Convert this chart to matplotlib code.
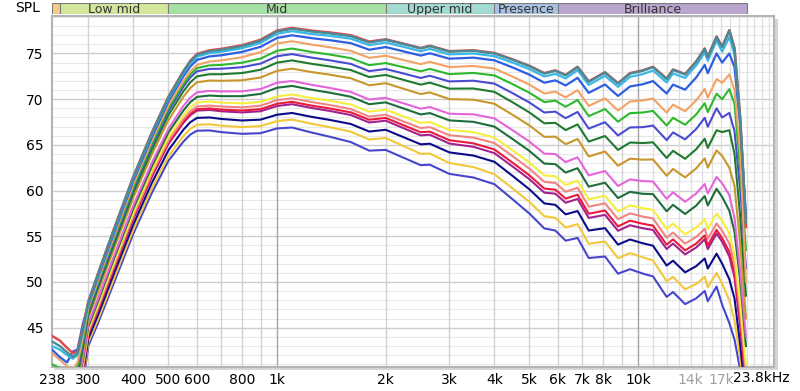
import matplotlib
matplotlib.use("Agg")
import matplotlib.pyplot as plt
from matplotlib.patches import Rectangle
import math

# ---------------- data ----------------
freqs = [238, 250, 262, 272, 280, 290, 300, 320, 350, 400, 450, 500, 550, 575, 600, 650,
         700, 800, 900, 1000, 1100, 1250, 1400, 1600, 1800, 2000,
         2200, 2500, 2650, 3000, 3500, 4000,
         4500, 5000, 5500, 5900, 6300, 6800, 7300, 8100, 8800, 9500,
         10300, 11000, 12000, 12500, 13500, 14500, 15300, 15600, 16500,
         17100, 17900, 18500, 19200, 19900]

red = [44.1, 43.6, 42.8, 42.2, 42.4, 45.0, 47.85, 51.05, 55.35, 61.55, 66.35, 70.25, 73.05, 74.2, 74.95, 75.35,
       75.5, 75.9, 76.5, 77.5, 77.8, 77.5, 77.3, 77.0, 76.3, 76.55,
       76.15, 75.6, 75.85, 75.25, 75.35, 75.05,
       74.35, 73.65, 72.85, 73.15, 72.65, 73.55, 71.95, 72.95, 71.75, 72.85,
       73.15, 73.55, 72.25, 73.25, 72.75, 74.15, 75.55, 74.65, 76.85,
       75.75, 77.55, 75.6, 67.8, 56.0]
teal = [43.5, 43.0, 42.3, 41.8, 42.2, 44.8, 47.8, 51.0, 55.3, 61.5, 66.3, 70.2, 73.0, 74.1, 74.85, 75.25,
        75.4, 75.8, 76.4, 77.4, 77.7, 77.4, 77.2, 76.9, 76.2, 76.5,
        76.1, 75.55, 75.8, 75.2, 75.3, 75.0,
        74.3, 73.6, 72.8, 73.1, 72.6, 73.5, 71.9, 72.9, 71.7, 72.8,
        73.1, 73.5, 72.2, 73.2, 72.7, 74.1, 75.5, 74.6, 76.8,
        75.7, 77.5, 75.5, 67.7, 56.5]
cyan = [43.0, 42.6, 42.0, 41.6, 42.0, 44.5, 47.7, 50.85, 55.15, 61.35, 66.15, 70.05, 72.8, 73.91, 74.65, 75.04,
        75.19, 75.57, 76.16, 77.15, 77.44, 77.13, 76.93, 76.62, 75.91, 76.2,
        75.8, 75.25, 75.5, 74.9, 75.0, 74.7,
        73.99, 73.29, 72.48, 72.77, 72.27, 73.17, 71.56, 72.55, 71.35, 72.44,
        72.74, 73.13, 71.83, 72.82, 72.32, 73.71, 75.11, 74.2, 76.4,
        75.2, 76.8, 74.9, 67.5, 57.0]
blue = [42.6, 41.8, 41.2, 42.4, 42.6, 45.5, 47.5, 50.65, 54.9, 61.1, 65.85, 69.75, 72.5, 73.57, 74.3, 74.68,
        74.8, 75.17, 75.73, 76.7, 76.99, 76.67, 76.45, 76.13, 75.41, 75.7,
        75.31, 74.77, 75.02, 74.43, 74.54, 74.25,
        73.46, 72.68, 71.8, 72.06, 71.5, 72.34, 70.69, 71.61, 70.35, 71.39,
        71.63, 71.98, 70.62, 71.59, 71.04, 72.39, 73.75, 72.84, 75.0,
        74.0, 75.0, 73.5, 67.0, 57.1]
orange = [42.2, 41.5, 40.8, 40.5, 41.2, 44.0, 47.2, 50.3, 54.55, 60.7, 65.45, 69.3, 72.0, 73.04, 73.75, 74.12,
          74.24, 74.59, 75.14, 76.1, 76.34, 75.96, 75.68, 75.29, 74.52, 74.75,
          74.36, 73.83, 74.09, 73.51, 73.63, 73.35,
          72.45, 71.59, 70.62, 70.82, 70.2, 70.98, 69.26, 70.09, 68.76, 69.74,
          69.86, 70.07, 68.53, 69.4, 68.68, 69.88, 71.12, 70.16, 72.2,
          71.8, 72.7, 71.0, 64.0, 50.0]
green = [41.0, 40.6, 40.2, 40.0, 40.8, 43.6, 47.0, 50.05, 54.3, 60.4, 65.15, 69.0, 71.65, 72.71, 73.4, 73.7,
         73.75, 73.99, 74.44, 75.3, 75.54, 75.16, 74.88, 74.49, 73.72, 73.95,
         73.57, 73.05, 73.31, 72.74, 72.87, 72.6,
         71.63, 70.71, 69.68, 69.84, 69.17, 69.91, 68.15, 68.92, 67.54, 68.47,
         68.54, 68.72, 67.12, 67.96, 67.2, 68.35, 69.56, 68.59, 70.6,
         70.0, 71.1, 69.5, 62.0, 53.5]
blue2 = [40.2, 39.8, 39.5, 39.4, 40.3, 43.2, 46.8, 49.8, 54.0, 60.15, 64.9, 68.7, 71.35, 72.37, 73.05, 73.31,
         73.33, 73.5, 73.89, 74.7, 74.93, 74.54, 74.25, 73.86, 73.07, 73.3,
         72.89, 72.32, 72.56, 71.94, 72.02, 71.7,
         70.64, 69.64, 68.54, 68.64, 67.92, 68.6, 66.78, 67.48, 66.03, 66.91,
         66.94, 67.12, 65.52, 66.36, 65.6, 66.75, 67.96, 66.99, 69.0,
         68.0, 68.5, 66.5, 60.0, 51.5]
dkgreen = [39.8, 39.5, 39.2, 39.0, 39.8, 42.8, 46.4, 49.5, 53.65, 59.75, 64.45, 68.25, 70.85, 71.84, 72.5, 72.73,
           72.73, 72.86, 73.22, 74.0, 74.24, 73.86, 73.58, 73.19, 72.42, 72.65,
           72.2, 71.59, 71.81, 71.15, 71.17, 70.8,
           69.64, 68.55, 67.36, 67.41, 66.62, 67.24, 65.36, 65.97, 64.45, 65.26,
           65.2, 65.28, 63.57, 64.35, 63.48, 64.54, 65.67, 64.67, 66.6,
           66.4, 66.6, 64.0, 57.0, 48.5]
gold = [39.5, 39.2, 39.0, 38.8, 39.4, 42.3, 46.1, 49.05, 53.2, 59.25, 63.95, 67.7, 70.25, 71.22, 71.85, 72.04,
        72.01, 72.07, 72.37, 73.1, 73.34, 72.96, 72.68, 72.29, 71.52, 71.75,
        71.24, 70.56, 70.74, 70.01, 69.94, 69.5,
        68.27, 67.13, 65.88, 65.9, 65.07, 65.65, 63.73, 64.28, 62.72, 63.49,
        63.38, 63.41, 61.62, 62.37, 61.44, 62.44, 63.53, 62.51, 64.4,
        63.8, 62.5, 60.5, 54.0, 46.0]
pink = [39.2, 38.9, 38.6, 38.4, 39.0, 41.7, 45.4, 48.3, 52.4, 58.4, 63.05, 66.75, 69.25, 70.16, 70.75, 70.91,
        70.85, 70.86, 71.11, 71.8, 71.99, 71.56, 71.23, 70.79, 69.96, 70.15,
        69.64, 68.96, 69.14, 68.41, 68.34, 67.9,
        66.58, 65.36, 64.04, 64.0, 63.12, 63.64, 61.66, 62.14, 60.51, 61.23,
        61.04, 60.99, 59.1, 59.8, 58.78, 59.7, 60.72, 59.68, 61.5,
        60.8, 59.5, 57.0, 51.0, 44.0]
dkgreen2 = [39.0, 38.7, 38.4, 38.2, 38.8, 41.4, 45.1, 48.0, 52.1, 58.05, 62.65, 66.35, 68.75, 69.68, 70.25, 70.4,
            70.33, 70.33, 70.58, 71.25, 71.45, 71.03, 70.71, 70.27, 69.45, 69.65,
            69.09, 68.33, 68.48, 67.68, 67.52, 67.0,
            65.62, 64.34, 62.96, 62.89, 61.97, 62.45, 60.43, 60.86, 59.18, 59.86,
            59.65, 59.61, 57.74, 58.44, 57.44, 58.37, 59.4, 58.37, 60.2,
            59.3, 57.8, 55.5, 50.0, 43.0]
yellow = [38.8, 38.5, 38.2, 38.0, 38.5, 41.0, 44.8, 47.6, 51.65, 57.6, 62.2, 65.85, 68.2, 69.11, 69.65, 69.75,
          69.63, 69.54, 69.7, 70.3, 70.52, 70.12, 69.83, 69.43, 68.63, 68.85,
          68.23, 67.4, 67.51, 66.64, 66.39, 65.8,
          64.38, 63.07, 61.66, 61.57, 60.62, 61.08, 59.04, 59.43, 57.73, 58.38,
          58.08, 57.89, 55.81, 56.4, 55.22, 55.98, 56.88, 55.8, 57.5,
          56.7, 55.3, 53.0, 47.5, 41.0]
salmon = [38.6, 38.3, 38.0, 37.8, 38.3, 40.7, 44.5, 47.3, 51.35, 57.25, 61.85, 65.45, 67.8, 68.68, 69.2, 69.3,
          69.2, 69.11, 69.29, 69.9, 70.1, 69.68, 69.36, 68.92, 68.1, 68.3,
          67.68, 66.84, 66.94, 66.06, 65.8, 65.2,
          63.74, 62.4, 60.95, 60.84, 59.87, 60.31, 58.24, 58.6, 56.87, 57.5,
          57.16, 56.95, 54.84, 55.41, 54.2, 54.93, 55.81, 54.72, 56.4,
          55.6, 54.2, 52.0, 46.5, 40.0]
red2 = [38.4, 38.1, 37.8, 37.6, 38.1, 40.5, 44.35, 47.1, 51.15, 57.05, 61.6, 65.2, 67.55, 68.39, 68.9, 68.99,
        68.86, 68.76, 68.91, 69.5, 69.71, 69.29, 68.98, 68.56, 67.75, 67.95,
        67.28, 66.38, 66.45, 65.51, 65.17, 64.5,
        63.03, 61.67, 60.22, 60.1, 59.12, 59.55, 57.47, 57.82, 56.08, 56.71,
        56.37, 56.17, 54.08, 54.66, 53.46, 54.21, 55.1, 54.01, 55.7,
        54.8, 53.3, 51.0, 45.5, 39.0]
purple = [38.3, 38.0, 37.7, 37.5, 38.0, 40.3, 44.3, 47.0, 51.0, 56.9, 61.5, 65.1, 67.4, 68.24, 68.75, 68.82,
          68.68, 68.55, 68.68, 69.25, 69.45, 69.03, 68.71, 68.27, 67.45, 67.65,
          66.96, 66.04, 66.11, 65.15, 64.79, 64.1,
          62.61, 61.25, 59.78, 59.66, 58.67, 59.09, 57.01, 57.34, 55.6, 56.21,
          55.88, 55.69, 53.61, 54.2, 53.02, 53.78, 54.68, 53.6, 55.3,
          54.4, 52.8, 50.5, 45.0, 38.5]
navy = [38.0, 37.7, 37.4, 37.2, 37.7, 39.8, 43.8, 46.5, 50.5, 56.3, 60.85, 64.4, 66.65, 67.48, 67.95, 68.0,
        67.84, 67.67, 67.76, 68.3, 68.49, 68.06, 67.73, 67.29, 66.46, 66.65,
        65.97, 65.06, 65.13, 64.18, 63.83, 63.15,
        61.58, 60.14, 58.6, 58.44, 57.4, 57.76, 55.63, 55.89, 54.09, 54.65,
        54.24, 53.97, 51.8, 52.33, 51.06, 51.74, 52.57, 51.47, 53.1,
        52.0, 50.3, 48.2, 43.0, 37.0]
gold2 = [37.7, 37.4, 37.1, 36.9, 37.3, 39.3, 43.4, 46.0, 49.95, 55.75, 60.25, 63.75, 65.95, 66.76, 67.2, 67.25,
         67.1, 66.95, 67.05, 67.6, 67.77, 67.3, 66.93, 66.45, 65.59, 65.75,
         65.01, 64.02, 64.05, 63.02, 62.57, 61.8,
         60.21, 58.76, 57.2, 57.02, 55.97, 56.33, 54.18, 54.43, 52.61, 53.16,
         52.7, 52.36, 50.08, 50.56, 49.2, 49.79, 50.56, 49.43, 51.0,
         49.8, 48.0, 45.8, 41.5, 36.0]
slate = [37.5, 37.2, 36.9, 36.7, 37.0, 38.8, 43.0, 45.6, 49.5, 55.3, 59.75, 63.25, 65.35, 66.13, 66.55, 66.58,
         66.4, 66.21, 66.28, 66.8, 66.9, 66.34, 65.89, 65.31, 64.37, 64.45,
         63.73, 62.78, 62.83, 61.83, 61.43, 60.7,
         59.02, 57.49, 55.86, 55.63, 54.52, 54.82, 52.62, 52.79, 50.91, 51.4,
         50.92, 50.61, 48.37, 48.9, 47.58, 48.22, 49.02, 47.9, 49.5,
         47.5, 45.5, 43.7, 40.3, 35.0]

band_names = ["", "Low mid", "Mid", "Upper mid", "Presence", "Brilliance"]
band_edges = [238, 250, 500, 2000, 4000, 6000, 20000]

xtick_vals = [238, 300, 400, 500, 600, 800, 1000, 2000, 3000, 4000, 5000, 6000, 7000, 8000, 10000, 14000, 17000]
xtick_labels = ["238", "300", "400", "500", "600", "800", "1k", "2k", "3k", "4k", "5k", "6k", "7k", "8k", "10k", "14k", "17k"]
ytick_vals = [45, 50, 55, 60, 65, 70, 75]

# ---------------- styling ----------------
series = [
    (slate, '#4646cc', 1.5), (gold2, '#f2c83a', 1.5), (navy, '#0c0c8a', 1.5),
    (purple, '#a3218e', 1.5), (red2, '#e81a3e', 1.5), (salmon, '#f28482', 1.5),
    (yellow, '#f6ee3c', 1.5), (dkgreen2, '#1e6e3c', 1.5), (pink, '#e464dc', 1.5),
    (gold, '#c8962c', 1.5), (dkgreen, '#1f7a2f', 1.5), (blue2, '#4a4ad2', 1.5),
    (green, '#2cb82c', 1.5), (orange, '#f2a264', 1.5), (blue, '#2d5ee2', 1.6),
    (cyan, '#38b8e8', 1.6), (red, '#e04a4e', 1.8), (teal, '#4a8a94', 1.7),
]
band_colors = ['#f5cc88', '#d5e79d', '#a7e0a5', '#a3dbd2', '#a8c2e2', '#b9a5cd']

W, H = 800, 391
fig = plt.figure(figsize=(W / 100, H / 100), dpi=100)
fig.patch.set_facecolor('white')

L, R, T, B = 52, 774, 16, 367
# soft shadow behind the plot frame
shadow = Rectangle(((L + 2) / W, 1 - (B + 3) / H), (R - L + 2) / W, (B - T) / H,
                   transform=fig.transFigure, facecolor='#d6d6d6', edgecolor='none', zorder=-5)
fig.patches.append(shadow)

ax = fig.add_axes([L / W, 1 - B / H, (R - L) / W, (B - T) / H])
ax.set_zorder(2)
ax.set_xscale('log')
ax.set_xlim(238, 23800)
ax.set_ylim(40.7, 79.1)
ax.set_facecolor('white')

# grid
for v in range(41, 80):
    if v % 5 == 0:
        ax.axhline(v, color='#cdcdcd', lw=1.0, zorder=1)
    else:
        ax.axhline(v, color='#e8e8e8', lw=0.8, zorder=0.9)
vlines = [300, 400, 500, 600, 700, 800, 900, 2000, 3000, 4000, 5000, 6000, 7000, 8000, 9000]
for v in vlines:
    ax.axvline(v, color='#d2d2d2', lw=1.0, zorder=1)
for v in range(11000, 24000, 1000):
    ax.axvline(v, color='#dedede', lw=0.9, zorder=1)
for v in [1000, 10000]:
    ax.axvline(v, color='#a6a6a6', lw=1.0, zorder=1.1)

for vals, col, lw in series:
    ax.plot(freqs, vals, color=col, lw=lw, solid_joinstyle='round', zorder=3)

for s in ax.spines.values():
    s.set_color('#b4b4b4')
    s.set_linewidth(1.5)

ax.set_yticks(ytick_vals)
ax.set_yticklabels([str(v) for v in ytick_vals])
ax.set_xticks(xtick_vals)
ax.set_xticklabels(xtick_labels)
ax.xaxis.set_minor_locator(matplotlib.ticker.NullLocator())
ax.tick_params(axis='both', length=0, labelsize=10)
ax.tick_params(axis='y', pad=6)
ax.tick_params(axis='x', pad=4)
for lab in ax.get_xticklabels():
    if lab.get_text() in ("14k", "17k"):
        lab.set_color('#a0a0a0')
fig.text(790 / W, 1 - 378 / H, "23.8kHz", ha='right', va='center', fontsize=10)
fig.text(28 / W, 1 - 8 / H, "SPL", ha='center', va='center', fontsize=10)

# band bar
bax = fig.add_axes([L / W, 1 - 14 / H, (R - L) / W, 11 / H])
bax.set_xscale('log')
bax.set_xlim(238, 23800)
bax.set_ylim(0, 1)
bax.axis('off')
for i in range(len(band_names)):
    f0, f1 = band_edges[i], band_edges[i + 1]
    bax.add_patch(Rectangle((f0, 0), f1 - f0, 1, facecolor=band_colors[i],
                            edgecolor='#7c7c7c', lw=0.8))
    if band_names[i]:
        fc = math.sqrt(f0 * f1)
        bax.text(fc, 0.45, band_names[i], ha='center', va='center', fontsize=9, color='#333333')

fig.savefig('out.png', dpi=100)
